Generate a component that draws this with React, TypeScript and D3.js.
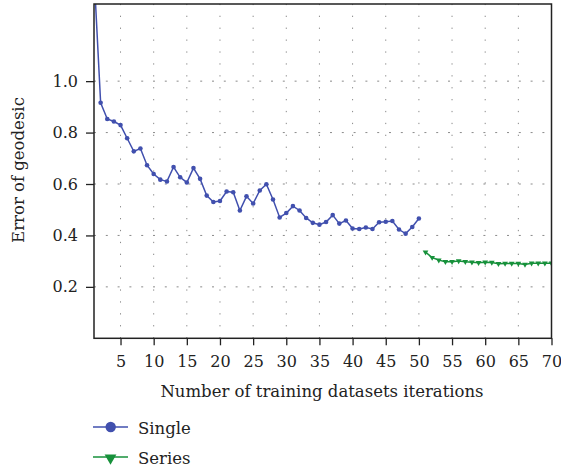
import React, { useEffect, useRef } from 'react';
import * as d3 from 'd3';

const singleIterations = d3.range(1, 51);
const singleError = [
  1.42, 0.916, 0.853, 0.843, 0.829, 0.778, 0.727, 0.738, 0.673, 0.639,
  0.617, 0.61, 0.666, 0.626, 0.606, 0.662, 0.62, 0.555, 0.53, 0.534,
  0.571, 0.568, 0.497, 0.552, 0.524, 0.575, 0.599, 0.54, 0.47, 0.487,
  0.514, 0.497, 0.468, 0.449, 0.442, 0.452, 0.479, 0.446, 0.458, 0.427,
  0.425, 0.431, 0.425, 0.451, 0.453, 0.456, 0.423, 0.407, 0.433, 0.466,
];
const seriesIterations = d3.range(51, 71);
const seriesError = [
  0.335, 0.314, 0.304, 0.298, 0.298, 0.301, 0.298, 0.296, 0.294, 0.296,
  0.295, 0.29, 0.291, 0.291, 0.291, 0.287, 0.292, 0.292, 0.292, 0.292,
];
const xTicks = [5, 10, 15, 20, 25, 30, 35, 40, 45, 50, 55, 60, 65, 70];
const yTicks = [0.2, 0.4, 0.6, 0.8, 1.0];
const legendLabels = ['Single', 'Series'];

const BLUE = '#4150ae';
const GREEN = '#17913b';
const FONT = '"DejaVu Serif", serif';
const FS = 16;
const TITLE_FS = 16.5;

const App = () => {
  const chartRef = useRef<SVGSVGElement>(null);

  useEffect(() => {
    const width = 561;
    const height = 468;
    const left = 94, right = 551.5, top = 4, bottom = 338.3;

    const svg = d3.select(chartRef.current)
      .attr('width', width)
      .attr('height', height);
    svg.selectAll('*').remove();

    const x = d3.scaleLinear().domain([1, 70]).range([left, right]);
    const y = d3.scaleLinear().domain([0, 1.3]).range([bottom, top]);

    svg.append('defs').append('clipPath')
      .attr('id', 'plot-clip')
      .append('rect')
      .attr('x', left).attr('y', top)
      .attr('width', right - left).attr('height', bottom - top);

    // grid
    svg.append('g')
      .selectAll('line')
      .data(xTicks.filter(d => d < 70))
      .join('line')
        .attr('x1', d => x(d)).attr('x2', d => x(d))
        .attr('y1', bottom).attr('y2', top)
        .attr('stroke', '#8a8a8a')
        .attr('stroke-width', 1)
        .attr('stroke-dasharray', '1.3 10.6');

    svg.append('g')
      .selectAll('line')
      .data(yTicks)
      .join('line')
        .attr('x1', left).attr('x2', right)
        .attr('y1', d => y(d)).attr('y2', d => y(d))
        .attr('stroke', '#8a8a8a')
        .attr('stroke-width', 1)
        .attr('stroke-dasharray', '2 9.8');

    // axes
    svg.append('g')
      .attr('transform', `translate(0,${bottom})`)
      .call(d3.axisBottom(x).tickValues(xTicks).tickSize(7).tickPadding(10.5).tickFormat(d3.format('d')))
      .call(g => g.select('.domain').remove())
      .call(g => g.selectAll('line').attr('stroke', '#222').attr('stroke-width', 1.3))
      .call(g => g.selectAll('text')
        .attr('font-family', FONT).attr('font-size', FS).attr('fill', '#222'));

    svg.append('g')
      .attr('transform', `translate(${left},0)`)
      .call(d3.axisLeft(y).tickValues(yTicks).tickSize(8).tickPadding(8).tickFormat(d3.format('.1f')))
      .call(g => g.select('.domain').remove())
      .call(g => g.selectAll('line').attr('stroke', '#222').attr('stroke-width', 1.3))
      .call(g => g.selectAll('text')
        .attr('font-family', FONT).attr('font-size', FS).attr('fill', '#222'));

    // data
    const plot = svg.append('g').attr('clip-path', 'url(#plot-clip)');
    const line = d3.line<[number, number]>().x(d => x(d[0])).y(d => y(d[1]));
    const singlePts = singleIterations.map((it, i) => [it, singleError[i]] as [number, number]);
    const seriesPts = seriesIterations.map((it, i) => [it, seriesError[i]] as [number, number]);

    plot.append('path')
      .attr('d', line(singlePts))
      .attr('fill', 'none')
      .attr('stroke', BLUE)
      .attr('stroke-width', 1.5);
    plot.append('g')
      .selectAll('circle')
      .data(singlePts)
      .join('circle')
        .attr('cx', d => x(d[0]))
        .attr('cy', d => y(d[1]))
        .attr('r', 2.3)
        .attr('fill', BLUE);

    const tri = d3.symbol().type(d3.symbolTriangle).size(14);
    plot.append('path')
      .attr('d', line(seriesPts))
      .attr('fill', 'none')
      .attr('stroke', GREEN)
      .attr('stroke-width', 1.5);
    plot.append('g')
      .selectAll('path')
      .data(seriesPts)
      .join('path')
        .attr('d', tri())
        .attr('transform', d => `translate(${x(d[0])},${y(d[1])}) rotate(180)`)
        .attr('fill', GREEN);

    // frame
    svg.append('rect')
      .attr('x', left).attr('y', top)
      .attr('width', right - left).attr('height', bottom - top)
      .attr('fill', 'none')
      .attr('stroke', '#222')
      .attr('stroke-width', 1.5);

    // titles
    svg.append('text')
      .attr('x', 322).attr('y', 397)
      .attr('text-anchor', 'middle')
      .attr('font-family', FONT).attr('font-size', TITLE_FS).attr('fill', '#222')
      .text('Number of training datasets iterations');

    svg.append('text')
      .attr('transform', 'translate(24,170) rotate(-90)')
      .attr('text-anchor', 'middle')
      .attr('font-family', FONT).attr('font-size', TITLE_FS).attr('fill', '#222')
      .text('Error of geodesic');

    // legend
    const legend = svg.append('g');
    const rows = [
      { label: legendLabels[0], color: BLUE, y: 427, marker: 'circle' },
      { label: legendLabels[1], color: GREEN, y: 457, marker: 'triangle' },
    ];
    rows.forEach(r => {
      legend.append('line')
        .attr('x1', 93).attr('x2', 128)
        .attr('y1', r.y).attr('y2', r.y)
        .attr('stroke', r.color).attr('stroke-width', 1.5);
      if (r.marker === 'circle') {
        legend.append('circle')
          .attr('cx', 110.7).attr('cy', r.y).attr('r', 5.2)
          .attr('fill', r.color);
      } else {
        legend.append('path')
          .attr('d', d3.symbol().type(d3.symbolTriangle).size(60)())
          .attr('transform', `translate(110.5,${r.y + 1}) rotate(180)`)
          .attr('fill', r.color);
      }
      legend.append('text')
        .attr('x', 138).attr('y', r.y + 7)
        .attr('font-family', FONT).attr('font-size', TITLE_FS).attr('fill', '#222')
        .text(r.label);
    });
  }, []);

  return (
    <div style={{ position: 'absolute', left: 0, top: 0, width: 561, height: 468, background: '#fff' }}>
      <svg ref={chartRef}></svg>
    </div>
  );
};

export default App;
